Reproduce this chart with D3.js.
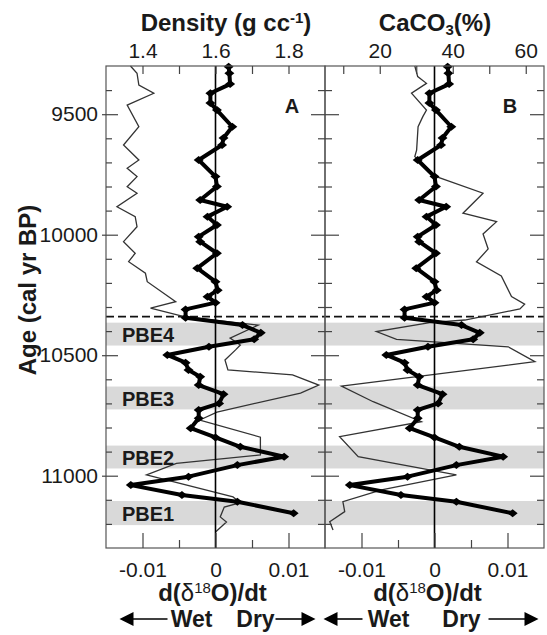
<!doctype html>
<html>
<head>
<meta charset="utf-8">
<script src="https://d3js.org/d3.v7.min.js"></script>
<style type='text/css'>
  body{margin:0;background:#fff;}
  text{font-family:'Liberation Sans',Arial,sans-serif;fill:#1a1a1a;}
  g.tick text{font-size:21px;}
  g.tick line{stroke:#444;stroke-width:1.2px;}
  rect.frame{fill:none;stroke:#555;stroke-width:1.2px;}
  text.title{font-weight:bold;font-size:24px;}
  text.pbe{font-weight:bold;font-size:20px;}
</style>
</head>
<body>
<svg id='core' width='547' height='635'></svg>
<script type='text/javascript'>
// d(d18O)/dt, same series drawn in both panels
var rateAge = [9303,9330,9375,9413,9454,9483,9552,9599,9628,9690,9759,9800,9856,9884,9925,9960,
  10008,10029,10077,10139,10195,10230,10257,10282,10310,10345,10375,10407,10434,10465,10499,10531,
  10561,10589,10624,10662,10700,10727,10762,10803,10841,10880,10921,10956,11004,11039,11080,11108,11156];
var rateVal = [0.0018,0.0019,0.0020,-0.0007,-0.0007,0.0002,0.0023,0.0011,0.0009,-0.0023,0.0000,0.0002,
  -0.0021,0.0016,-0.0011,0.0002,-0.0023,-0.0021,0.0002,-0.0025,0.0000,0.0003,-0.0011,0.0000,-0.0041,
  -0.0041,0.0037,0.0062,0.0053,-0.0009,-0.0066,-0.0041,-0.0037,-0.0021,-0.0023,0.0011,0.0005,-0.0023,
  -0.0023,-0.0034,0.0000,0.0034,0.0094,0.0030,-0.0037,-0.0116,-0.0046,0.0030,0.0107];

// density (g cc-1), panel A
var densAge = [9300,9330,9379,9413,9462,9552,9628,9690,9724,9759,9801,9828,9884,9925,9967,10029,10077,
  10112,10160,10195,10278,10305,10340,10375,10429,10458,10478,10520,10561,10582,10624,10657,10736,
  10769,10840,10914,10949,10997,11088,11112,11130,11171,11192,11234];
var densVal = [1.367,1.385,1.39,1.431,1.358,1.39,1.348,1.39,1.358,1.385,1.358,1.385,1.33,1.38,1.385,
  1.348,1.38,1.362,1.408,1.413,1.491,1.422,1.514,1.717,1.64,1.668,1.655,1.626,1.634,1.811,1.883,
  1.833,1.604,1.557,1.723,1.723,1.493,1.411,1.648,1.668,1.624,1.613,1.63,1.6];

// CaCO3 (%), panel B
var caAge = [9300,9344,9372,9413,9483,9510,9552,9649,9676,9745,9759,9828,9911,9946,9997,10059,10113,
  10171,10257,10288,10308,10354,10365,10402,10434,10465,10527,10628,10693,10776,10838,10921,10997,
  11059,11108,11149,11191,11225];
var caVal = [29.6,30.4,32.8,28.7,32.8,31.8,30.5,30.1,29.6,34.6,35.5,48.3,42.8,52,48.3,49.7,46.5,
  53.3,56.1,59.7,58.4,43.3,33.7,19.1,24.6,55.2,62.5,9.5,18.2,31.4,9.0,14.1,41.0,20.5,9.9,10.4,6.3,7.2];

// PBE events
var bandNames = ['PBE4','PBE3','PBE2','PBE1'];
var bandStart = [10365,10630,10875,11105];
var bandEnd = [10460,10725,10970,11205];
var dashAge = 10340;

// ticks
var ageTicks = [9400,9500,9600,9700,9800,9900,10000,10100,10200,10300,10400,10500,10600,10700,10800,10900,11000,11100,11200];
var ageLabels = [9500,10000,10500,11000];
var densTicks = [1.4,1.5,1.6,1.7,1.8];
var densLabels = [1.4,1.6,1.8];
var caTicks = [10,20,30,40,50,60];
var caLabels = [20,40,60];
var rateTicks = [-0.01,-0.005,0,0.005,0.01];
var rateLabels = [-0.01,0,0.01];

var svg = d3.select('#core');
var y = d3.scaleLinear().domain([9300,11300]).range([66,548]);
var xRateA = d3.scaleLinear().domain([-0.015,0.015]).range([106,325]);
var xRateB = d3.scaleLinear().domain([-0.015,0.015]).range([325,544]);
var xDens = d3.scaleLinear().domain([1.3,1.9]).range([106,325]);
var xCa = d3.scaleLinear().domain([5,65]).range([325,544]);

var rateData = rateAge.map((a,i)=>[a,rateVal[i]]);
var densData = densAge.map((a,i)=>[a,densVal[i]]);
var caData = caAge.map((a,i)=>[a,caVal[i]]);

// bands
svg.selectAll('rect.band').data(bandNames).enter()
  .append('rect').attr('class','band')
  .attr('x',106).attr('width',544-106)
  .attr('y',(d,i)=>y(bandStart[i]))
  .attr('height',(d,i)=>y(bandEnd[i])-y(bandStart[i]))
  .attr('fill','#d9d9d9');

// dashed event line
svg.append('line')
  .attr('x1',106).attr('x2',544)
  .attr('y1',y(dashAge)).attr('y2',y(dashAge))
  .style('stroke','#111').style('stroke-width','1.6px').style('stroke-dasharray','8,4');

// thin lines
svg.append('path').datum(densData)
  .attr('d',d3.line().x(d=>xDens(d[1])).y(d=>y(d[0])))
  .style('fill','none').style('stroke','#333').style('stroke-width','1.3px');
svg.append('path').datum(caData)
  .attr('d',d3.line().x(d=>xCa(d[1])).y(d=>y(d[0])))
  .style('fill','none').style('stroke','#333').style('stroke-width','1.3px');

// zero lines
[xRateA,xRateB].forEach((xs)=>{
  svg.append('line').attr('x1',xs(0)).attr('x2',xs(0))
    .attr('y1',66).attr('y2',548)
    .style('stroke','#000').style('stroke-width','1.6px');
});

// thick rate line + diamonds
[xRateA,xRateB].forEach((xs)=>{
  svg.append('path').datum(rateData)
    .attr('d',d3.line().x(d=>xs(d[1])).y(d=>y(d[0])))
    .style('fill','none').style('stroke','#000').style('stroke-width','4px')
    .style('stroke-linejoin','round');
  svg.append('g').selectAll('path').data(rateData).enter()
    .append('path').attr('d','M-5,0L0,-4L5,0L0,4Z')
    .attr('transform',d=>'translate('+xs(d[1])+','+y(d[0])+')')
    .style('fill','#000');
});

// frames
svg.append('rect').attr('class','frame').attr('x',106).attr('y',66).attr('width',325-106).attr('height',548-66);
svg.append('rect').attr('class','frame').attr('x',325).attr('y',66).attr('width',544-325).attr('height',548-66);

function noDomain(g){ g.select('.domain').remove(); }

// top axes
svg.append('g').attr('transform','translate(0,66)')
  .call(d3.axisTop(xDens).tickValues(densTicks).tickSize(-8).tickPadding(8)
    .tickFormat(d=>densLabels.indexOf(d)>=0 ? d.toFixed(1) : ''))
  .call(noDomain);
svg.append('g').attr('transform','translate(0,66)')
  .call(d3.axisTop(xCa).tickValues(caTicks).tickSize(-8).tickPadding(8)
    .tickFormat(d=>caLabels.indexOf(d)>=0 ? d : ''))
  .call(noDomain);

// bottom axes
[xRateA,xRateB].forEach((xs)=>{
  var g = svg.append('g').attr('transform','translate(0,548)')
    .call(d3.axisBottom(xs).tickValues(rateTicks).tickSize(-8).tickPadding(14)
      .tickFormat(d=>rateLabels.indexOf(d)>=0 ? String(d) : ''))
    .call(noDomain);
  g.selectAll('.tick line').attr('y2',d=>rateLabels.indexOf(d)>=0 ? -15 : -8);
});

// left axis
var gl = svg.append('g').attr('transform','translate(106,0)')
  .call(d3.axisLeft(y).tickValues(ageTicks).tickSize(-6).tickPadding(8)
    .tickFormat(d=>ageLabels.indexOf(d)>=0 ? d : ''))
  .call(noDomain);
gl.selectAll('.tick line').attr('x1',d=>ageLabels.indexOf(d)>=0 ? -4 : 0)
  .attr('x2',d=>ageLabels.indexOf(d)>=0 ? 12 : 6);

// inner ticks on the other panel edges
var edges = [[325,d3.axisRight],[325,d3.axisLeft],[544,d3.axisRight]];
edges.forEach((e)=>{
  var g = svg.append('g').attr('transform','translate('+e[0]+',0)')
    .call(e[1](y).tickValues(ageTicks).tickSize(-6).tickFormat(''))
    .call(noDomain);
  var sgn = e[1]===d3.axisRight ? -1 : 1;
  g.selectAll('.tick line').attr('x2',d=>sgn*(ageLabels.indexOf(d)>=0 ? 14 : 7));
});

// panel letters
svg.append('text').attr('x',292).attr('y',113).attr('text-anchor','middle')
  .style('font-weight','bold').style('font-size','20px').text('A');
svg.append('text').attr('x',510).attr('y',113).attr('text-anchor','middle')
  .style('font-weight','bold').style('font-size','20px').text('B');

// PBE labels
svg.selectAll('text.pbe').data(bandNames).enter()
  .append('text').attr('class','pbe')
  .attr('x',122)
  .attr('y',(d,i)=>(y(bandStart[i])+y(bandEnd[i]))/2+8)
  .text(d=>d);

// top titles
var t1 = svg.append('text').attr('class','title').attr('x',226).attr('y',31).attr('text-anchor','middle');
t1.append('tspan').text('Density (g cc');
t1.append('tspan').attr('dy',-8).style('font-size','15px').text('-1');
t1.append('tspan').attr('dy',8).text(')');

var t2 = svg.append('text').attr('class','title').attr('x',435).attr('y',31).attr('text-anchor','middle');
t2.append('tspan').text('CaCO');
t2.append('tspan').attr('dy',4).style('font-size','15px').text('3');
t2.append('tspan').attr('dy',-4).text('(%)');

// y title
svg.append('text').attr('class','title')
  .attr('transform','translate(36,290) rotate(-90)')
  .attr('text-anchor','middle').text('Age (cal yr BP)');

// bottom titles + wet/dry arrows
function arrow(x1,x2,yy){
  var dir = x2>x1 ? 1 : -1;
  svg.append('line').attr('x1',x1).attr('x2',x2-dir*12).attr('y1',yy).attr('y2',yy)
    .style('stroke','#000').style('stroke-width','1.6px');
  svg.append('path')
    .attr('d','M'+x2+','+yy+'L'+(x2-dir*14)+','+(yy-7)+'L'+(x2-dir*14)+','+(yy+7)+'Z')
    .style('fill','#000');
}
// [scale, title shift, wet shift, dry shift]
[[xRateA,-3,-24,40],[xRateB,-7,-46,27]].forEach((p)=>{
  var xs = p[0], cx = xs(0)+p[1];
  var t = svg.append('text').attr('class','title').attr('x',cx).attr('y',601).attr('text-anchor','middle');
  t.append('tspan').text('d(');
  t.append('tspan').style('font-weight','normal').text('\u03b4');
  t.append('tspan').attr('dy',-8).style('font-size','15px').style('font-weight','normal').text('18');
  t.append('tspan').attr('dy',8).text('O)/dt');
  svg.append('text').attr('class','title').style('font-size','23px')
    .attr('x',xs(0)+p[2]).attr('y',627).attr('text-anchor','middle').text('Wet');
  svg.append('text').attr('class','title').style('font-size','23px')
    .attr('x',xs(0)+p[3]).attr('y',627).attr('text-anchor','middle').text('Dry');
});
arrow(xRateA(0)-48,xRateA(0)-96,619);
arrow(xRateA(0)+60,xRateA(0)+100,619);
arrow(xRateB(0)-72,xRateB(0)-111,619);
arrow(xRateB(0)+54,xRateB(0)+104,619);
</script>
</body>
</html>
